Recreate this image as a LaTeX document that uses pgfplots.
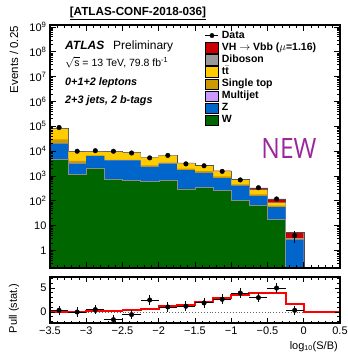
\documentclass[border=0pt]{standalone}
\usepackage{fontspec}
\setmainfont{Liberation Sans}
\newfontfamily\newfnt{Open Sans}
\usepackage{pgfplots}
\usepackage{pgfplotstable}
\pgfplotsset{compat=1.18}
\definecolor{cVH}{RGB}{204,0,0}
\definecolor{cDB}{RGB}{153,153,153}
\definecolor{cTT}{RGB}{255,204,0}
\definecolor{cST}{RGB}{204,153,0}
\definecolor{cMJ}{RGB}{204,153,255}
\definecolor{cZ}{RGB}{0,102,204}
\definecolor{cW}{RGB}{0,102,0}
\definecolor{cNew}{RGB}{155,40,155}

% cumulative stack, left bin edges
\pgfplotstableread{
x      W      Z      MJ     ST     TT     DB     VH
-3.5   1e-3   1e-3   1e-3   1e-3   1e-3   1e-3   1e-3
-3.5   4700   20000  20100  30000  78000  80500  82000
-3.25  1200   3200   3210   4100   9300   9600   9800
-3.0   2150   6300   6320   6800   9400   9700   9850
-2.75  780    4300   4320   4500   9300   9550   9700
-2.5   690    4300   4320   4500   8500   8750   8850
-2.25  630    2350   2360   2700   5500   5650   5720
-2.0   690    3200   3210   3500   6600   6800   6900
-1.75  310    1740   1750   2000   3200   3300   3380
-1.5   355    1350   1355   1600   2500   2580   2650
-1.25  260    830    835    980    1550   1600   1640
-1.0   103    410    412    460    680    705    740
-0.75  69     158    159    182    270    285    335
-0.5   18.6   56     56.3   64     81     88     122
-0.25  1e-3   2.75   2.76   2.9    3.0    3.2    5.6
0.0    1e-3   1e-3   1e-3   1e-3   1e-3   1e-3   1e-3
0.5    1e-3   1e-3   1e-3   1e-3   1e-3   1e-3   1e-3
}\stack

\pgfplotstableread{
x       y      e
-3.375  90000  300
-3.125  10000  100
-2.875  10500  102
-2.625  10000  100
-2.375  8500   92
-2.125  5400   73
-1.875  6800   82
-1.625  3100   56
-1.375  2600   51
-1.125  1550   39
-0.875  700    26
-0.625  340    18
-0.375  120    11
-0.125  4      2
}\data

\pgfplotstableread{
x       y
-3.375  0.35
-3.125  0.0
-2.875  0.5
-2.625  -1.6
-2.375  -0.55
-2.125  2.5
-1.875  1.05
-1.625  1.2
-1.375  1.9
-1.125  2.65
-0.875  3.95
-0.625  3.0
-0.375  5.0
-0.125  0.35
}\pull

\pgfplotstableread{
x      y
-3.5   0.02
-3.25  0.05
-3.0   0.15
-2.75  0.25
-2.5   0.4
-2.25  0.6
-2.0   1.2
-1.75  1.4
-1.5   2.1
-1.25  2.85
-1.0   3.5
-0.75  3.9
-0.5   3.9
-0.25  1.65
0.0    0.0
0.5    0.0
}\pullexp

\pgfplotsset{
  lbox/.style={legend image code/.code={\fill[##1] (0pt,-5.2pt) rectangle (13pt,5.2pt);}},
  ldata/.style={legend image code/.code={\draw[black, line width=0.8pt] (0pt,0.6pt) -- (13pt,0.6pt); \fill[black] (6.5pt,0.6pt) circle (2.2pt);}},
}

\begin{document}
\begin{tikzpicture}
\path[use as bounding box] (0pt,0pt) rectangle (348pt,-354pt);
\begin{axis}[
  at={(50pt,-268pt)}, anchor=south west,
  width=290pt, height=243pt, scale only axis,
  xmin=-3.5, xmax=0.5, ymode=log, ymin=0.2, ymax=1.2e9,
  axis on top,
  tick align=inside, tick pos=both,
  xtick={-3.5,-3,-2.5,-2,-1.5,-1,-0.5,0,0.5}, xticklabels={}, minor x tick num=4,
  ytick={1,10,100,1e3,1e4,1e5,1e6,1e7,1e8,1e9},
  yticklabels={1,10,10\textsuperscript{2},10\textsuperscript{3},10\textsuperscript{4},10\textsuperscript{5},10\textsuperscript{6},10\textsuperscript{7},10\textsuperscript{8},10\textsuperscript{9}},
  minor ytick={0.2,0.3,0.4,0.5,0.6,0.7,0.8,0.9,2,3,4,5,6,7,8,9,20,30,40,50,60,70,80,90,200,300,400,500,600,700,800,900,2e3,3e3,4e3,5e3,6e3,7e3,8e3,9e3,2e4,3e4,4e4,5e4,6e4,7e4,8e4,9e4,2e5,3e5,4e5,5e5,6e5,7e5,8e5,9e5,2e6,3e6,4e6,5e6,6e6,7e6,8e6,9e6,2e7,3e7,4e7,5e7,6e7,7e7,8e7,9e7,2e8,3e8,4e8,5e8,6e8,7e8,8e8,9e8},
  major tick length=6pt, minor tick length=3pt,
  every tick/.style={black, line width=0.9pt},
  axis line style={line width=1.3pt},
  yticklabel style={font=\fontsize{11}{13}\selectfont},
  legend cell align=left,
  legend style={at={(axis description cs:0.534,0.975)}, anchor=north west,
    draw=none, fill=none, inner sep=0pt,
    font=\fontsize{10.5}{12}\selectfont\bfseries,
    nodes={inner sep=0pt, text height=7.5pt, text depth=2.2pt},
    row sep=1.3pt, column sep=3pt},
]
\addlegendimage{ldata}\addlegendentry{Data}
\addlegendimage{lbox, fill=cVH}\addlegendentry{VH $\rightarrow$ Vbb ($\mu$=1.16)}
\addlegendimage{lbox, fill=cDB}\addlegendentry{Diboson}
\addlegendimage{lbox, fill=cTT}\addlegendentry{t\raisebox{0pt}[7.5pt]{$\bar{\mbox{\bfseries t}}$}}
\addlegendimage{lbox, fill=cST}\addlegendentry{Single top}
\addlegendimage{lbox, fill=cMJ}\addlegendentry{Multijet}
\addlegendimage{lbox, fill=cZ}\addlegendentry{Z}
\addlegendimage{lbox, fill=cW}\addlegendentry{W}

\addplot[forget plot, const plot, fill=cVH, draw=black!70, line width=0.4pt] table[x=x,y=VH]{\stack};
\addplot[forget plot, const plot, fill=cDB, draw=none] table[x=x,y=DB]{\stack};
\addplot[forget plot, const plot, fill=cTT, draw=none] table[x=x,y=TT]{\stack};
\addplot[forget plot, const plot, fill=cST, draw=none] table[x=x,y=ST]{\stack};
\addplot[forget plot, const plot, fill=cMJ, draw=none] table[x=x,y=MJ]{\stack};
\addplot[forget plot, const plot, fill=cZ, draw=none] table[x=x,y=Z]{\stack};
\addplot[forget plot, const plot, fill=cW, draw=black!45, line width=0.4pt] table[x=x,y=W]{\stack};
\addplot[forget plot, only marks, mark=*, mark size=2.3pt, black,
  error bars/.cd, y dir=both, y explicit, error bar style={line width=0.9pt}, error mark=none]
  table[x=x,y=y,y error=e]{\data};
\end{axis}

\begin{axis}[
  at={(50pt,-323pt)}, anchor=south west,
  width=290pt, height=46pt, scale only axis,
  xmin=-3.5, xmax=0.5, ymin=-2.3, ymax=7.3,
  axis on top,
  tick align=inside, tick pos=both,
  xtick={-3.5,-3,-2.5,-2,-1.5,-1,-0.5,0,0.5},
  xticklabels={−3.5,−3,−2.5,−2,−1.5,−1,−0.5,0,0.5},
  minor x tick num=4,
  ytick={0,5}, yticklabels={0,5},
  minor ytick={-2,-1,1,2,3,4,6,7},
  major tick length=5pt, minor tick length=2.5pt,
  every tick/.style={black, line width=0.9pt},
  axis line style={line width=1.3pt},
  ticklabel style={font=\fontsize{11}{13}\selectfont},
]
\addplot[black!60, dotted, line width=0.9pt] coordinates {(-3.5,0) (0.5,0)};
\addplot[red, const plot, line width=1.8pt] table[x=x,y=y]{\pullexp};
\addplot[only marks, mark=*, mark size=2.3pt, black,
  error bars/.cd, x dir=both, x fixed=0.125, y dir=both, y fixed=1, error bar style={line width=0.9pt}, error mark=none]
  table[x=x,y=y]{\pull};
\end{axis}

% texts
\node[anchor=base, font=\fontsize{11.7}{14}\selectfont\bfseries] at (138pt,-15.5pt) {\underline{[ATLAS-CONF-2018-036]}};
\node[anchor=base west, inner sep=0pt, font=\fontsize{12}{14}\selectfont\bfseries\itshape] at (65pt,-49.3pt) {ATLAS};
\node[anchor=base west, inner sep=0pt, font=\fontsize{12}{14}\selectfont] at (113pt,-49.3pt) {Preliminary};
\node[anchor=base west, inner sep=0pt, font=\fontsize{10.5}{12}\selectfont] at (65pt,-66pt) {$\sqrt{\mbox{s}}$ = 13 TeV, 79.8 fb\textsuperscript{-1}};
\node[anchor=base west, inner sep=0pt, font=\fontsize{10.8}{12}\selectfont\bfseries\itshape] at (65pt,-85pt) {0+1+2 leptons};
\node[anchor=base west, inner sep=0pt, font=\fontsize{10.8}{12}\selectfont\bfseries\itshape] at (65pt,-103.5pt) {2+3 jets, 2 b-tags};
\node[text=cNew, font=\newfnt\fontsize{28}{30}\selectfont, xscale=0.88] at (289pt,-149pt) {NEW};
\node[rotate=90, anchor=east, font=\fontsize{11.5}{13}\selectfont] at (14pt,-22.5pt) {Events / 0.25};
\node[rotate=90, anchor=east, font=\fontsize{11}{13}\selectfont] at (14pt,-280pt) {Pull (stat.)};
\node[anchor=base east, inner sep=0pt, font=\fontsize{11}{13}\selectfont] at (338pt,-349pt) {log$_{\mbox{\fontsize{7}{8}\selectfont 10}}$(S/B)};
\end{tikzpicture}
\end{document}
